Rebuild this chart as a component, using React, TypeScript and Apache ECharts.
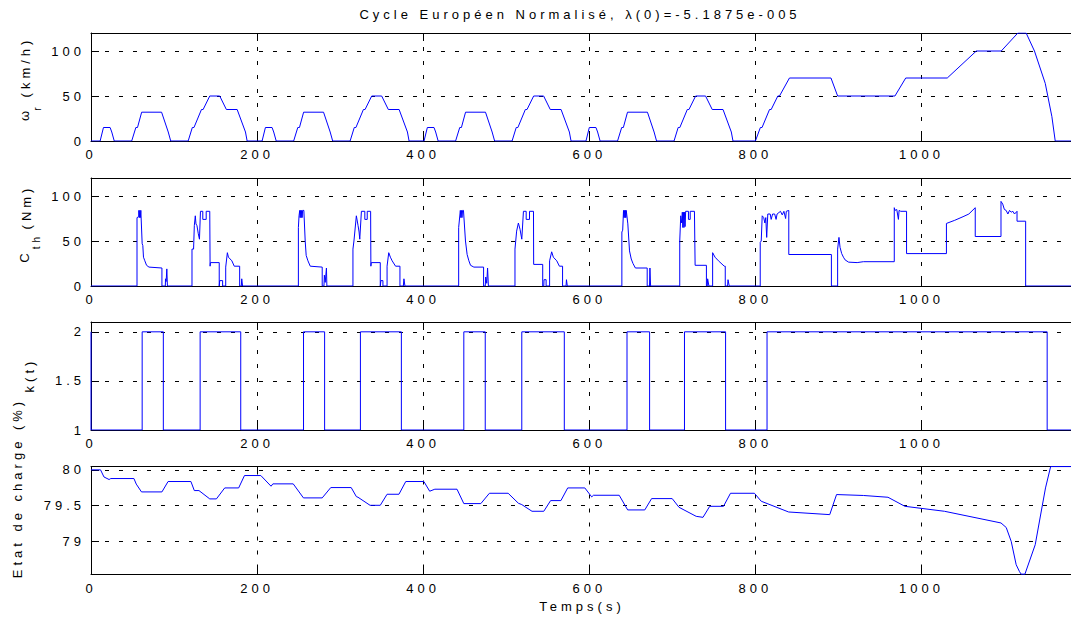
import React, { useEffect, useRef } from 'react';
import * as echarts from 'echarts';

// ---------- tick labels ----------
const xTicks = [0, 200, 400, 600, 800, 1000];
const speedTicks = [0, 50, 100];
const torqueTicks = [0, 50, 100];
const kTicks = [1, 1.5, 2];
const socTicks = [79, 79.5, 80];

// ---------- texts ----------
const titleText = 'Cycle Européen Normalisé, λ(0)=-5.1875e-005';
const xName = 'Temps(s)';

// ---------- series: [time (s), value] ----------
const speedPoints: number[][] = [
  [0, 0], [11, 0], [15, 15], [23, 15], [25, 10], [28, 0], [49, 0], [54, 15], [56, 15], [61, 32], [85, 32], [93, 10], [96, 0],
  [117, 0], [122, 15], [124, 15], [133, 35], [135, 35], [143, 50], [155, 50], [163, 35], [176, 35], [186, 10], [188, 0],
  [206, 0], [210, 15], [218, 15], [220, 10], [223, 0], [244, 0], [249, 15], [251, 15], [256, 32], [280, 32], [288, 10], [291, 0],
  [312, 0], [317, 15], [319, 15], [328, 35], [330, 35], [338, 50], [350, 50], [358, 35], [371, 35], [381, 10], [383, 0],
  [401, 0], [405, 15], [413, 15], [415, 10], [418, 0], [439, 0], [444, 15], [446, 15], [451, 32], [475, 32], [483, 10], [486, 0],
  [507, 0], [512, 15], [514, 15], [523, 35], [525, 35], [533, 50], [545, 50], [553, 35], [566, 35], [576, 10], [578, 0],
  [596, 0], [600, 15], [608, 15], [610, 10], [613, 0], [634, 0], [639, 15], [641, 15], [646, 32], [670, 32], [678, 10], [681, 0],
  [702, 0], [707, 15], [709, 15], [718, 35], [720, 35], [728, 50], [740, 50], [748, 35], [761, 35], [771, 10], [773, 0],
  [800, 0], [806, 15], [808, 15], [817, 35], [819, 35], [827, 50], [829, 50], [841, 70], [891, 70], [899, 50], [968, 50],
  [981, 70], [1031, 70], [1066, 100], [1096, 100], [1116, 120], [1126, 120], [1136, 100], [1149, 64], [1157, 27], [1161, 0], [1180, 0],
];

const torquePoints: number[][] = [
  [0, 0], [55.4, 0], [55.4, 76], [57.5, 77], [57.6, 84], [58.2, 76], [58.8, 84], [59.4, 76], [60, 84], [60.8, 84], [61.6, 47],
  [62.4, 45], [63.2, 32], [64.8, 28], [66.9, 23], [69.8, 21], [85.4, 20], [85.4, 0], [89.5, 0], [89.7, 8], [90.5, 5], [91.3, 19], [92, 0],
  [121.6, 0], [121.6, 41], [123.5, 41], [124.4, 67], [125.6, 78], [126.4, 69], [127.6, 67], [129.2, 58], [130.6, 52], [131.8, 83],
  [134.6, 83], [134.6, 74], [138.7, 74], [138.7, 83], [143, 83], [143.4, 22], [143.8, 26], [154.4, 26], [154.4, 0], [155, 6], [158.5, 6],
  [158.5, 0], [162.2, 0], [162.2, 21], [164.2, 37], [165.5, 32], [169.6, 28], [172.5, 22], [179, 22], [179, 0], [181, 0], [181.5, 8], [182.5, 0],
  [249.7, 0], [249.7, 65], [250.5, 78], [251.3, 84], [251.8, 76], [252.4, 84], [253, 76], [253.6, 84], [254.2, 76], [254.8, 84], [256.3, 84],
  [257.9, 50], [259.1, 34], [261.2, 28], [264, 22], [278.4, 21], [278.4, 0], [280.5, 0], [281, 12], [282, 4], [283.5, 20], [284, 0],
  [315.4, 0], [315.4, 41], [316.6, 50], [319.5, 78], [321.6, 67], [322.8, 60], [323.6, 52], [325.6, 83], [329.7, 83], [329.7, 74],
  [332.6, 74], [332.6, 83], [336.7, 83], [337, 22], [337.5, 26], [348.3, 26], [348.3, 0], [349.1, 6], [351.5, 6], [351.5, 0],
  [356.5, 0], [356.5, 22], [358.5, 37], [360.5, 32], [362.6, 28], [366.7, 22], [372, 22], [372, 0], [376.1, 0], [376.8, 8], [378, 0],
  [442.7, 0], [442.7, 65], [444.7, 84], [445.3, 76], [446, 84], [446.7, 76], [447.4, 84], [448.5, 84], [450.9, 50], [452.9, 35],
  [455, 28], [457, 23], [461, 21], [472.7, 21], [472.7, 0], [474.7, 0], [475.3, 10], [476.5, 3], [477.5, 20], [478.5, 0],
  [510.5, 0], [510.5, 41], [512.5, 61], [514.6, 70], [516.6, 63], [518.7, 52], [520.7, 83], [524, 83], [524, 74], [528, 74],
  [528, 83], [532.8, 83], [533, 24], [543.9, 24], [543.9, 0], [545.2, 0], [545.5, 7], [548, 7], [548, 0],
  [552.2, 0], [552.2, 28], [554.7, 38], [556.7, 32], [560.8, 28], [564, 22], [567.8, 22], [567.8, 0], [572, 0], [572.5, 7], [573.5, 0],
  [639.2, 0], [639.2, 60], [640.2, 62], [641.2, 84], [641.8, 76], [642.4, 84], [643, 76], [643.6, 84], [644, 76], [644.5, 84],
  [645, 80], [646.4, 69], [648.4, 39], [650.5, 30], [652.6, 25], [655.5, 20], [669.7, 20], [669.7, 0], [672.5, 0], [673, 20], [673.8, 0],
  [708.9, 0], [708.9, 50], [710.1, 78], [711.3, 70], [712, 82], [712.6, 65], [713.3, 82], [714, 65], [714.6, 82], [715.3, 66],
  [716, 83], [719.4, 83], [719.4, 74], [721.5, 74], [721.5, 83], [726.6, 83], [727.4, 23], [741, 23], [741, 0], [742, 0],
  [742.5, 8], [744, 0], [748.5, 0], [748.5, 37], [751.4, 32], [755.5, 28], [762.5, 22], [763.7, 22], [763.7, 0], [766.5, 0], [767, 7], [768.5, 0],
  [805.8, 0], [805.8, 48.5], [807, 50], [808.2, 78], [810, 76], [811.4, 70], [812.5, 76], [813.6, 54], [814.9, 80], [817.8, 80],
  [819, 74], [820.7, 80], [823.2, 80], [824.9, 74], [826.1, 80], [830.2, 83], [832.3, 79], [834.3, 83], [836.4, 75], [837.2, 83],
  [840.2, 84], [840.2, 35], [891.5, 35], [891.5, 0], [899, 0], [899, 41], [900.6, 54], [901.9, 43], [903.9, 36], [906, 32],
  [908, 29], [912.2, 26.5], [922.5, 26], [930, 27], [967.2, 27], [967.2, 87], [968, 84], [970.2, 85], [972.2, 74], [973, 84],
  [975, 83], [982, 83], [982, 36], [1030, 36], [1030, 69.5], [1040, 73], [1050, 77], [1057, 80], [1064.7, 87], [1064.7, 55],
  [1095.7, 55], [1095.7, 94], [1097.8, 91], [1099.8, 85], [1101.9, 84], [1104, 80], [1106, 84], [1108, 82], [1110, 83],
  [1112, 80], [1115, 83], [1115, 72], [1125.4, 72], [1125.4, 0], [1180, 0],
];

const kPoints: number[][] = [
  [0, 2], [0, 1], [61.6, 1], [61.6, 2], [87.1, 2], [87.1, 1], [131.4, 1], [131.4, 2], [180.3, 2], [180.3, 1],
  [255.9, 1], [255.9, 2], [281.3, 2], [281.3, 1], [324.4, 1], [324.4, 2], [373.7, 2], [373.7, 1],
  [448.9, 1], [448.9, 2], [474.7, 2], [474.7, 1], [518.7, 1], [518.7, 2], [569.9, 2], [569.9, 1],
  [645.4, 1], [645.4, 2], [672.6, 2], [672.6, 1], [714.6, 1], [714.6, 2], [764.1, 2], [764.1, 1],
  [814, 1], [814, 2], [1151.3, 2], [1151.3, 1], [1180, 1],
];

const socPoints: number[][] = [
  [0, 80.0], [11.5, 80.0], [15.6, 79.9], [21.8, 79.864], [23.8, 79.878], [51.7, 79.878], [54.5, 79.8], [60.8, 79.69],
  [85.4, 79.69], [92.8, 79.836], [120.3, 79.836], [124.4, 79.709], [130, 79.709], [143, 79.592], [151, 79.592],
  [161, 79.746], [177.8, 79.746], [184.8, 79.92], [204.5, 79.92], [216.8, 79.77], [219, 79.803], [243.5, 79.803],
  [255.8, 79.606], [278.4, 79.606], [288.7, 79.751], [313.3, 79.751], [319.5, 79.624], [321.5, 79.615], [336, 79.502],
  [348.3, 79.502], [356.5, 79.657], [370.8, 79.657], [379, 79.836], [400.8, 79.836], [407.8, 79.7], [414, 79.728],
  [440.7, 79.728], [448.9, 79.526], [469.4, 79.526], [479.7, 79.671], [502.3, 79.671], [514.6, 79.531], [518.7, 79.512],
  [531, 79.418], [545.2, 79.418], [553.4, 79.568], [565.8, 79.568], [574, 79.746], [594.6, 79.746], [602.9, 79.62],
  [605, 79.643], [636, 79.643], [646.2, 79.437], [666.8, 79.437], [675, 79.596], [699.8, 79.596], [708, 79.474],
  [728.7, 79.347], [736.9, 79.333], [745, 79.488], [761.6, 79.488], [770, 79.671], [798.8, 79.671], [807, 79.559],
  [840, 79.408], [889.5, 79.371], [897.7, 79.653], [930, 79.64], [959.6, 79.615], [980, 79.488], [1027.6, 79.418],
  [1095.7, 79.254], [1102, 79.19], [1108, 78.995], [1114, 78.667], [1118, 78.57], [1120, 78.535], [1124.5, 78.535],
  [1136.9, 78.948], [1149.3, 79.746], [1155.5, 80.046], [1180, 80.046],
];

// ---------- styling ----------
const FONT = "'Liberation Sans', Arial, Helvetica, sans-serif";
const FS = 13;
const BLUE = '#0000ff';
const GRID_LEFT = 91;
const GRID_W = 984;
const GRID_H = 108;
const gridTops = [33, 178, 322, 466.5];
const X_MAX = 1180;
const yRanges = [
  { min: 0, max: 120, ticks: speedTicks },
  { min: 0, max: 120, ticks: torqueTicks },
  { min: 1, max: 2.1, ticks: kTicks },
  { min: 78.53, max: 80.047, ticks: socTicks },
];
const seriesData = [speedPoints, torquePoints, kPoints, socPoints];

const gridLineStyle = { color: '#000', width: 1, type: [4, 10] as number[] };
const plain = (v: number) => String(v);

function buildOption(): echarts.EChartsOption {
  const grid: any[] = [];
  const xAxis: any[] = [];
  const yAxis: any[] = [];
  const series: any[] = [];
  for (let i = 0; i < 4; i++) {
    grid.push({ left: GRID_LEFT, top: gridTops[i], width: GRID_W, height: GRID_H, containLabel: false });
    xAxis.push({
      type: 'value', gridIndex: i, position: 'bottom', min: 0, max: X_MAX,
      axisLine: { show: true, onZero: false, lineStyle: { color: '#000', width: 1 } },
      axisTick: { show: true, inside: true, length: 8, customValues: xTicks, lineStyle: { color: '#000' } },
      axisLabel: { show: true, customValues: xTicks, formatter: plain, color: '#000', fontSize: FS, fontFamily: FONT, margin: 7 },
      splitLine: { show: true, lineStyle: gridLineStyle },
    });
    xAxis.push({
      type: 'value', gridIndex: i, position: 'top', min: 0, max: X_MAX,
      axisLine: { show: true, onZero: false, lineStyle: { color: '#000', width: 1 } },
      axisTick: { show: true, inside: true, length: 8, customValues: xTicks, lineStyle: { color: '#000' } },
      axisLabel: { show: false },
      splitLine: { show: false },
    });
    const r = yRanges[i];
    yAxis.push({
      type: 'value', gridIndex: i, position: 'left', min: r.min, max: r.max,
      axisLine: { show: true, onZero: false, lineStyle: { color: '#000', width: 1 } },
      axisTick: { show: true, inside: true, length: 8, customValues: r.ticks, lineStyle: { color: '#000' } },
      axisLabel: { show: true, customValues: r.ticks, formatter: plain, color: '#000', fontSize: FS, fontFamily: FONT, margin: 6 },
      splitLine: { show: true, lineStyle: gridLineStyle },
    });
    series.push({
      type: 'line', xAxisIndex: 2 * i, yAxisIndex: i, data: seriesData[i],
      symbol: 'none', showSymbol: false, lineStyle: { color: BLUE, width: 1 }, z: 5,
    });
  }

  const txt = (text: string, x: number, y: number, size = FS, rot = 0) => ({
    type: 'text', x, y, rotation: rot, z: 10,
    style: {
      text, fill: '#000', fontSize: size, fontFamily: FONT,
      align: 'center', verticalAlign: 'middle', textAlign: 'center', textVerticalAlign: 'middle',
    },
  });
  const R = Math.PI / 2;

  return {
    animation: false,
    backgroundColor: '#ffffff',
    textStyle: { fontFamily: FONT },
    grid, xAxis, yAxis, series,
    graphic: [
      txt(titleText, 580, 14),
      txt('ω', 24, 114, FS, R),
      txt('r', 37, 107, 10, R),
      txt('(km/h)', 25, 67, FS, R),
      txt('C', 24, 256, FS, R),
      txt('th', 36, 241, 10, R),
      txt('(Nm)', 26, 207, FS, R),
      txt('k(t)', 29, 375, FS, R),
      { ...txt('Etat de charge (%)', 17, 490, FS, R), style: { ...txt('', 0, 0).style, text: 'Etat de charge (%)' } },
      txt(xName, 582, 606),
    ].map((g: any) => (g.style.text === 'Etat de charge (%)' ? { ...g, x: 17, y: 488, rotation: R } : g)),
  } as any;
}

export default function App() {
  const ref = useRef<HTMLDivElement>(null);
  useEffect(() => {
    if (!ref.current) return;
    const chart = echarts.init(ref.current, undefined, { renderer: 'svg', width: 1071, height: 619 });
    chart.setOption(buildOption());
    return () => chart.dispose();
  }, []);
  return (
    <div
      ref={ref}
      style={{ position: 'absolute', left: 0, top: 0, width: 1071, height: 619, letterSpacing: '4px', background: '#fff' }}
    />
  );
}
